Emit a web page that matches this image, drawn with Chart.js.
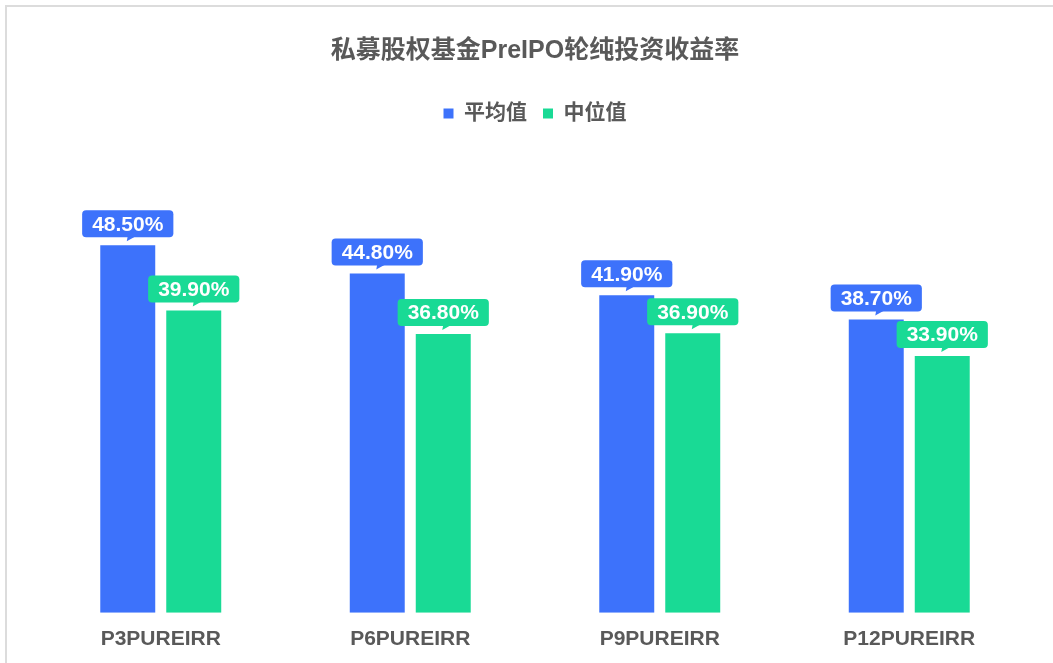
<!DOCTYPE html>
<html>
<head>
<meta charset="utf-8">
<script src="https://cdn.jsdelivr.net/npm/chart.js@4.4.1/dist/chart.umd.min.js"></script>
<style>
  html, body { margin: 0; padding: 0; background: #fff; overflow: hidden; }
  #wrap { position: relative; width: 1053px; height: 663px; }
  #frame { position: absolute; left: 5px; top: 5px; width: 1100px; height: 700px; border-left: 2px solid #dcdcdc; border-top: 2px solid #dcdcdc; pointer-events: none; }
  canvas { position: absolute; left: 0; top: 0; }
</style>
</head>
<body>
<div id="wrap">
  <canvas id="c" width="1053" height="663"></canvas>
  <div id="frame"></div>
</div>
<script>
const categories = ['P3PUREIRR', 'P6PUREIRR', 'P9PUREIRR', 'P12PUREIRR'];
const seriesNames = ['平均值', '中位值'];
const meanValues = [48.5, 44.8, 41.9, 38.7];
const medianValues = [39.9, 36.8, 36.9, 33.9];
const chartTitle = '私募股权基金PreIPO轮纯投资收益率';

const BLUE = '#3d72fb';
const GREEN = '#19da95';
const GRAY = '#595959';
const FONT = "'Liberation Sans', Arial, 'Noto Sans CJK SC', sans-serif";

const calloutPlugin = {
  id: 'callouts',
  afterDatasetsDraw(chart) {
    const ctx = chart.ctx;
    ctx.save();
    ctx.font = "bold 21px " + FONT;
    ctx.textAlign = 'center';
    ctx.textBaseline = 'middle';
    chart.data.datasets.forEach((ds, di) => {
      const meta = chart.getDatasetMeta(di);
      meta.data.forEach((bar, i) => {
        const txt = ds.data[i].toFixed(2) + '%';
        const tw = ctx.measureText(txt).width;
        const w = tw + 20, h = 27;
        const cx = bar.x;
        const b = bar.y - 8;
        const x0 = cx - w / 2, y0 = b - h;
        ctx.fillStyle = ds.backgroundColor;
        ctx.beginPath();
        ctx.roundRect(x0, y0, w, h, 4);
        ctx.fill();
        ctx.beginPath();
        ctx.moveTo(cx, b - 1);
        ctx.lineTo(cx + 8, b - 1);
        ctx.lineTo(cx - 1, b + 4);
        ctx.closePath();
        ctx.fill();
        ctx.fillStyle = '#ffffff';
        ctx.fillText(txt, cx, y0 + h / 2 + 1);
      });
    });
    ctx.restore();
  }
};

new Chart(document.getElementById('c'), {
  type: 'bar',
  data: {
    labels: categories,
    datasets: [
      { label: seriesNames[0], data: meanValues, backgroundColor: BLUE },
      { label: seriesNames[1], data: medianValues, backgroundColor: GREEN }
    ]
  },
  options: {
    responsive: false,
    animation: false,
    devicePixelRatio: 1,
    layout: { padding: { left: 36, right: 19, top: 0, bottom: 5 } },
    datasets: { bar: { categoryPercentage: 0.529, barPercentage: 0.833 } },
    plugins: {
      title: {
        display: true,
        text: chartTitle,
        color: GRAY,
        font: { family: FONT, size: 25, weight: 'bold' },
        padding: { top: 36, bottom: 21 }
      },
      legend: {
        display: true,
        labels: {
          color: GRAY,
          font: { family: FONT, size: 21, weight: 'bold' },
          boxWidth: 10,
          boxHeight: 10,
          padding: 16
        }
      },
      tooltip: { enabled: false }
    },
    scales: {
      x: {
        grid: { display: false },
        border: { display: false },
        ticks: { color: GRAY, font: { family: FONT, size: 21, weight: 'bold' }, padding: 6 }
      },
      y: {
        display: false,
        min: 0,
        max: 63.2
      }
    }
  },
  plugins: [calloutPlugin]
});
</script>
</body>
</html>
